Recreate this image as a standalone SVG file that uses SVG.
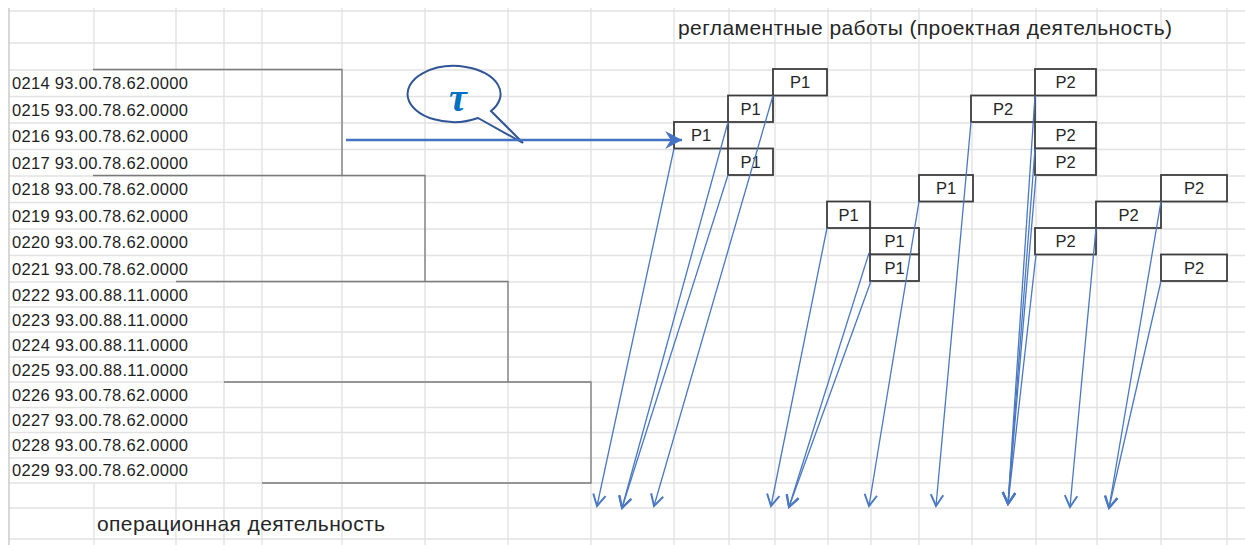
<svg xmlns="http://www.w3.org/2000/svg" width="1245" height="545" viewBox="0 0 1245 545">
<style>
.grid line{stroke:#e2e2e2;stroke-width:1.4}
.lbl{font-family:"Liberation Sans",Arial,sans-serif;font-size:16.5px;fill:#1e1e1e}
.hdr{font-family:"Liberation Sans",Arial,sans-serif;font-size:21px;fill:#262626}
.br{fill:none;stroke:#7a7a7a;stroke-width:1.3}
.box rect{fill:#ffffff;stroke:#3c3c3c;stroke-width:1.8}
.box text{font-family:"Liberation Sans",Arial,sans-serif;font-size:16.5px;fill:#262626;text-anchor:middle}
.con{stroke:#4a78c2;stroke-width:1.3;fill:none;marker-end:url(#open)}
</style>
<defs>
<marker id="open" markerUnits="userSpaceOnUse" markerWidth="16" markerHeight="16" refX="11" refY="7" orient="auto" viewBox="0 0 14 14">
<path d="M1,1.5 L11,7 L1,12.5" fill="none" stroke="#4a78c2" stroke-width="1.7" stroke-linejoin="miter"/>
</marker>
<marker id="solid" markerUnits="userSpaceOnUse" markerWidth="18" markerHeight="18" refX="15" refY="8" orient="auto" viewBox="0 0 16 16">
<path d="M0,0 L15,8 L0,16 L5,8 Z" fill="#4472c4"/>
</marker>
</defs>
<rect width="1245" height="545" fill="#ffffff"/>
<g id="grid" class="grid">
<line x1="9" y1="11" x2="1245" y2="11"/>
<line x1="9" y1="43" x2="1245" y2="43"/>
<line x1="9" y1="70" x2="1245" y2="70"/>
<line x1="9" y1="96.5" x2="1245" y2="96.5"/>
<line x1="9" y1="123" x2="1245" y2="123"/>
<line x1="9" y1="149.5" x2="1245" y2="149.5"/>
<line x1="9" y1="176" x2="1245" y2="176"/>
<line x1="9" y1="202.5" x2="1245" y2="202.5"/>
<line x1="9" y1="229" x2="1245" y2="229"/>
<line x1="9" y1="255.5" x2="1245" y2="255.5"/>
<line x1="9" y1="282" x2="1245" y2="282"/>
<line x1="9" y1="307" x2="1245" y2="307"/>
<line x1="9" y1="332" x2="1245" y2="332"/>
<line x1="9" y1="357" x2="1245" y2="357"/>
<line x1="9" y1="382" x2="1245" y2="382"/>
<line x1="9" y1="407.5" x2="1245" y2="407.5"/>
<line x1="9" y1="432.5" x2="1245" y2="432.5"/>
<line x1="9" y1="458" x2="1245" y2="458"/>
<line x1="9" y1="483" x2="1245" y2="483"/>
<line x1="9" y1="508" x2="1245" y2="508"/>
<line x1="9" y1="539" x2="1245" y2="539"/>
<line x1="94" y1="8" x2="94" y2="70"/>
<line x1="94" y1="483" x2="94" y2="545"/>
<line x1="176" y1="8" x2="176" y2="70"/>
<line x1="176" y1="483" x2="176" y2="545"/>
<line x1="224" y1="8" x2="224" y2="545"/>
<line x1="262" y1="8" x2="262" y2="545"/>
<line x1="342" y1="8" x2="342" y2="545"/>
<line x1="425" y1="8" x2="425" y2="545"/>
<line x1="508" y1="8" x2="508" y2="545"/>
<line x1="591" y1="8" x2="591" y2="545"/>
<line x1="674" y1="8" x2="674" y2="545"/>
<line x1="729" y1="8" x2="729" y2="545"/>
<line x1="775" y1="8" x2="775" y2="545"/>
<line x1="828" y1="8" x2="828" y2="545"/>
<line x1="871" y1="8" x2="871" y2="545"/>
<line x1="919" y1="8" x2="919" y2="545"/>
<line x1="972" y1="8" x2="972" y2="545"/>
<line x1="1036" y1="8" x2="1036" y2="545"/>
<line x1="1097" y1="8" x2="1097" y2="545"/>
<line x1="1161" y1="8" x2="1161" y2="545"/>
<line x1="1227" y1="8" x2="1227" y2="545"/>
<line x1="9" y1="8" x2="9" y2="545" style="stroke:#c8c8c8"/>
</g>
<g id="headers">
<text class="hdr" x="678" y="35" textLength="494">регламентные работы (проектная деятельность)</text>
<text class="hdr" x="97" y="531" textLength="288">операционная деятельность</text>
</g>
<g id="labels">
<text class="lbl" x="12" y="89.3" textLength="176">0214 93.00.78.62.0000</text>
<text class="lbl" x="12" y="115.8" textLength="176">0215 93.00.78.62.0000</text>
<text class="lbl" x="12" y="142.3" textLength="176">0216 93.00.78.62.0000</text>
<text class="lbl" x="12" y="168.8" textLength="176">0217 93.00.78.62.0000</text>
<text class="lbl" x="12" y="195.3" textLength="176">0218 93.00.78.62.0000</text>
<text class="lbl" x="12" y="221.8" textLength="176">0219 93.00.78.62.0000</text>
<text class="lbl" x="12" y="248.3" textLength="176">0220 93.00.78.62.0000</text>
<text class="lbl" x="12" y="274.8" textLength="176">0221 93.00.78.62.0000</text>
<text class="lbl" x="12" y="300.7" textLength="176">0222 93.00.88.11.0000</text>
<text class="lbl" x="12" y="325.7" textLength="176">0223 93.00.88.11.0000</text>
<text class="lbl" x="12" y="350.7" textLength="176">0224 93.00.88.11.0000</text>
<text class="lbl" x="12" y="375.7" textLength="176">0225 93.00.88.11.0000</text>
<text class="lbl" x="12" y="400.7" textLength="176">0226 93.00.78.62.0000</text>
<text class="lbl" x="12" y="425.7" textLength="176">0227 93.00.78.62.0000</text>
<text class="lbl" x="12" y="451" textLength="176">0228 93.00.78.62.0000</text>
<text class="lbl" x="12" y="476" textLength="176">0229 93.00.78.62.0000</text>
</g>
<g id="brackets">
<path class="br" d="M93,69.5 H342 V175.5 H93"/>
<path class="br" d="M342,175.5 H425 V281.5 H176"/>
<path class="br" d="M425,281.5 H508 V382 H224"/>
<path class="br" d="M508,382 H591 V483 H262"/>
</g>
<g id="callout">
<path d="M478,118 A46.5,28 0 1 1 491,111 L523,143 Z" fill="none" stroke="#2f5597" stroke-width="2"/>
<text x="458" y="111" font-family="'Liberation Serif','DejaVu Serif',serif" font-size="40" font-weight="bold" font-style="italic" fill="#0070c0" text-anchor="middle">τ</text>
</g>
<g id="nodes">
<g id="p1a" class="box"><rect x="773" y="69" width="54" height="26.5"/><text x="800" y="88">P1</text></g>
<g id="p1b" class="box"><rect x="728" y="95.5" width="45" height="26.5"/><text x="750.5" y="114.5">P1</text></g>
<g id="p1c" class="box"><rect x="674" y="122" width="54" height="26.5"/><text x="701" y="141">P1</text></g>
<g id="p1d" class="box"><rect x="728" y="148.5" width="45" height="26.5"/><text x="750.5" y="167.5">P1</text></g>
<g id="p1e" class="box"><rect x="919" y="175" width="54" height="26.5"/><text x="946" y="194">P1</text></g>
<g id="p1f" class="box"><rect x="827" y="201.5" width="43" height="26.5"/><text x="848.5" y="220.5">P1</text></g>
<g id="p1g" class="box"><rect x="870" y="228" width="49" height="26.5"/><text x="894.5" y="247">P1</text></g>
<g id="p1h" class="box"><rect x="870" y="254.5" width="49" height="26.5"/><text x="894.5" y="273.5">P1</text></g>
<g id="p2a" class="box"><rect x="1035" y="69" width="61" height="26.5"/><text x="1065.5" y="88">P2</text></g>
<g id="p2b" class="box"><rect x="971" y="95.5" width="64" height="26.5"/><text x="1003" y="114.5">P2</text></g>
<g id="p2c" class="box"><rect x="1035" y="122" width="61" height="26.5"/><text x="1065.5" y="141">P2</text></g>
<g id="p2d" class="box"><rect x="1035" y="148.5" width="61" height="26.5"/><text x="1065.5" y="167.5">P2</text></g>
<g id="p2e" class="box"><rect x="1161" y="175" width="66" height="26.5"/><text x="1194" y="194">P2</text></g>
<g id="p2f" class="box"><rect x="1096" y="201.5" width="65" height="26.5"/><text x="1128.5" y="220.5">P2</text></g>
<g id="p2g" class="box"><rect x="1035" y="228" width="61" height="26.5"/><text x="1065.5" y="247">P2</text></g>
<g id="p2h" class="box"><rect x="1161" y="254.5" width="66" height="26.5"/><text x="1194" y="273.5">P2</text></g>
</g>
<g id="connectors">
<line x1="346" y1="140" x2="682" y2="140" stroke="#4472c4" stroke-width="2.6" marker-end="url(#solid)"/>
<line class="con" x1="674" y1="148.5" x2="597" y2="506"/>
<line class="con" x1="728" y1="122" x2="622" y2="508"/>
<line class="con" x1="728" y1="175" x2="622" y2="508"/>
<line class="con" x1="773" y1="95.5" x2="654" y2="506"/>
<line class="con" x1="827" y1="228" x2="771" y2="506"/>
<line class="con" x1="869" y1="253" x2="789" y2="507"/>
<line class="con" x1="871" y1="281" x2="789" y2="507"/>
<line class="con" x1="919" y1="201.5" x2="869" y2="506"/>
<line class="con" x1="971" y1="122" x2="936" y2="506"/>
<line class="con" x1="1035" y1="95.5" x2="1008" y2="504"/>
<line class="con" x1="1035" y1="148.5" x2="1008" y2="504"/>
<line class="con" x1="1036" y1="175" x2="1008" y2="504"/>
<line class="con" x1="1036" y1="254.5" x2="1008" y2="504"/>
<line class="con" x1="1096" y1="228" x2="1070" y2="507"/>
<line class="con" x1="1161" y1="201.5" x2="1109" y2="508"/>
<line class="con" x1="1161" y1="281" x2="1109" y2="508"/>
</g>
</svg>
